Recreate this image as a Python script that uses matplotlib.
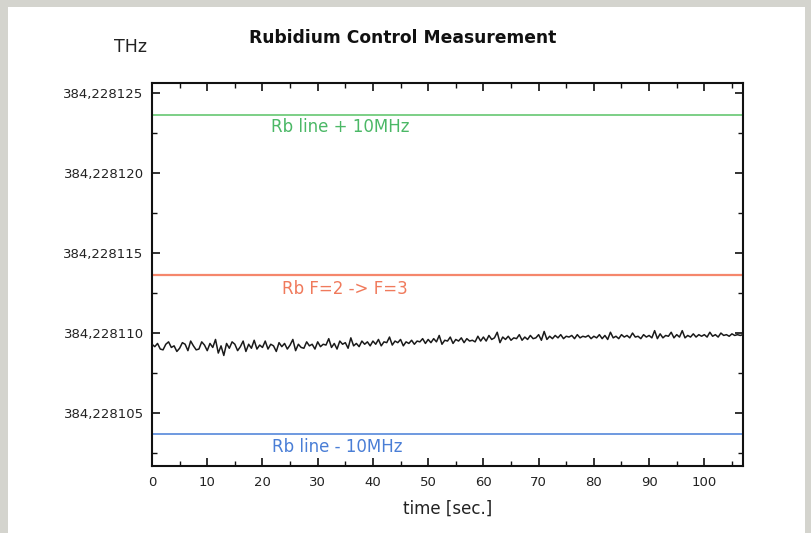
import numpy as np
import matplotlib
matplotlib.use("Agg")
import matplotlib.pyplot as plt
from matplotlib.patches import Rectangle
from matplotlib.ticker import MultipleLocator, FixedLocator

# ---- data (frequency offsets in MHz above 384,228100 THz) ----
sample_step_s = 0.5
freq_offset_mhz = [
    9.3, 9.15, 9.35, 9.0, 8.95, 9.3, 9.45, 9.1, 9.2, 8.85, 9.05, 9.4, 9.3, 8.9, 9.5, 9.2, 8.95, 9.0, 9.45, 9.25,
    8.9, 9.35, 9.1, 9.6, 8.75, 9.2, 8.6, 9.35, 9.05, 9.45, 9.3, 8.9, 9.15, 9.5, 8.85, 9.3, 9.05, 9.55, 9.0, 9.25,
    9.1, 9.5, 9.0, 9.3, 9.2, 8.85, 9.4, 9.15, 9.35, 9.0, 9.25, 9.6, 8.9, 9.3, 9.1, 9.05, 9.45, 9.2, 9.3, 9.0,
    9.45, 9.15, 9.3, 9.25, 9.65, 9.1, 9.35, 9.0, 9.5, 9.3, 9.4, 9.05, 9.7, 9.2, 9.35, 9.15, 9.5, 9.3, 9.45, 9.2,
    9.5, 9.3, 9.6, 9.2, 9.45, 9.4, 9.75, 9.25, 9.5, 9.4, 9.6, 9.2, 9.45, 9.35, 9.55, 9.3, 9.5, 9.45, 9.65, 9.35,
    9.6, 9.4, 9.65, 9.45, 9.85, 9.3, 9.55, 9.5, 9.75, 9.35, 9.6, 9.5, 9.7, 9.4, 9.65, 9.5, 9.55, 9.45, 9.8, 9.5,
    9.75, 9.5, 9.85, 9.6, 9.7, 10.05, 9.4, 9.75, 9.6, 9.8, 9.55, 9.7, 9.65, 9.9, 9.55, 9.75, 9.6, 9.85, 9.65, 9.7,
    9.9, 9.55, 10.1, 9.6, 9.8, 9.65, 9.85, 9.7, 9.9, 9.65, 9.8, 9.75, 9.85, 9.65, 9.9, 9.7, 9.8, 9.75, 9.85, 9.65,
    9.8, 9.7, 9.9, 9.65, 9.85, 9.6, 10.05, 9.7, 9.8, 9.65, 9.9, 9.75, 9.85, 9.7, 10.0, 9.75, 9.8, 9.65, 9.9, 9.75,
    9.85, 9.7, 10.15, 9.65, 9.95, 9.7, 9.85, 9.8, 10.05, 9.7, 9.9, 9.75, 10.15, 9.7, 9.85, 9.75, 9.95, 9.75, 9.9, 9.8,
    9.9, 9.75, 10.05, 9.8, 9.9, 9.75, 10.0, 9.85, 9.9, 9.8, 9.95, 9.85, 9.9, 9.85, 9.9,
]
rb_plus_10mhz = 23.63
rb_f2_f3 = 13.63
rb_minus_10mhz = 3.68
line_labels = ["Rb line + 10MHz", "Rb F=2 -> F=3", "Rb line - 10MHz"]

y_tick_values = [5, 10, 15, 20, 25]
y_tick_labels = ["384,228105", "384,228110", "384,228115", "384,228120", "384,228125"]
x_tick_values = [0, 10, 20, 30, 40, 50, 60, 70, 80, 90, 100]

title = "Rubidium Control Measurement"
x_label = "time [sec.]"
y_unit = "THz"

# ---- figure ----
W, H = 811, 533
fig = plt.figure(figsize=(W / 100, H / 100), dpi=100)
fig.patch.set_facecolor("#d4d4ce")
bg = Rectangle((8 / W, 0), (805 - 8) / W, (H - 7) / H,
               transform=fig.transFigure, facecolor="white",
               edgecolor="none", zorder=-10)
fig.patches.append(bg)

ax = fig.add_axes([152 / W, 1 - 466 / H, (743 - 152) / W, (466 - 83) / H])
ax.set_zorder(5)
ax.set_facecolor("white")

t = np.arange(len(freq_offset_mhz)) * sample_step_s
ax.plot(t, freq_offset_mhz, color="#1a1a1a", lw=1.1, zorder=3)

green, orange, blue = "#66c772", "#f5876c", "#5588da"
ax.axhline(rb_plus_10mhz, color=green, lw=1.2, zorder=2)
ax.axhline(rb_f2_f3, color=orange, lw=1.6, zorder=2)
ax.axhline(rb_minus_10mhz, color=blue, lw=1.2, zorder=2)

ax.text(21.5, rb_plus_10mhz - 0.75, line_labels[0], color="#4bb866",
        fontsize=12, va="center", ha="left")
ax.text(23.5, rb_f2_f3 - 0.85, line_labels[1], color="#f07a5c",
        fontsize=12, va="center", ha="left")
ax.text(21.8, rb_minus_10mhz - 0.8, line_labels[2], color="#4a7ed6",
        fontsize=12, va="center", ha="left")

ax.set_xlim(0, 107)
ax.set_ylim(1.69, 25.63)

ax.xaxis.set_major_locator(FixedLocator(x_tick_values))
ax.xaxis.set_minor_locator(MultipleLocator(5))
ax.yaxis.set_major_locator(FixedLocator(y_tick_values))
ax.yaxis.set_minor_locator(MultipleLocator(2.5))
ax.set_yticklabels(y_tick_labels)

ax.tick_params(which="both", direction="in", top=True, right=True,
               color="#111111", labelsize=9.5, labelcolor="#222222")
ax.tick_params(which="major", length=6, width=1.2)
ax.tick_params(which="minor", length=3.5, width=1.0)
ax.tick_params(axis="x", pad=7)
ax.tick_params(axis="y", pad=6)

for s in ax.spines.values():
    s.set_color("#111111")
    s.set_linewidth(1.5)

fig.text(403 / W, 1 - 38 / H, title, ha="center", va="center",
         fontsize=12.3, fontweight="bold", color="#111111")
fig.text(131 / W, 1 - 47 / H, y_unit, ha="center", va="center",
         fontsize=12.5, color="#222222")
ax.set_xlabel(x_label, fontsize=12, color="#222222", labelpad=8)

fig.savefig("out.png", dpi=100, facecolor=fig.get_facecolor())
